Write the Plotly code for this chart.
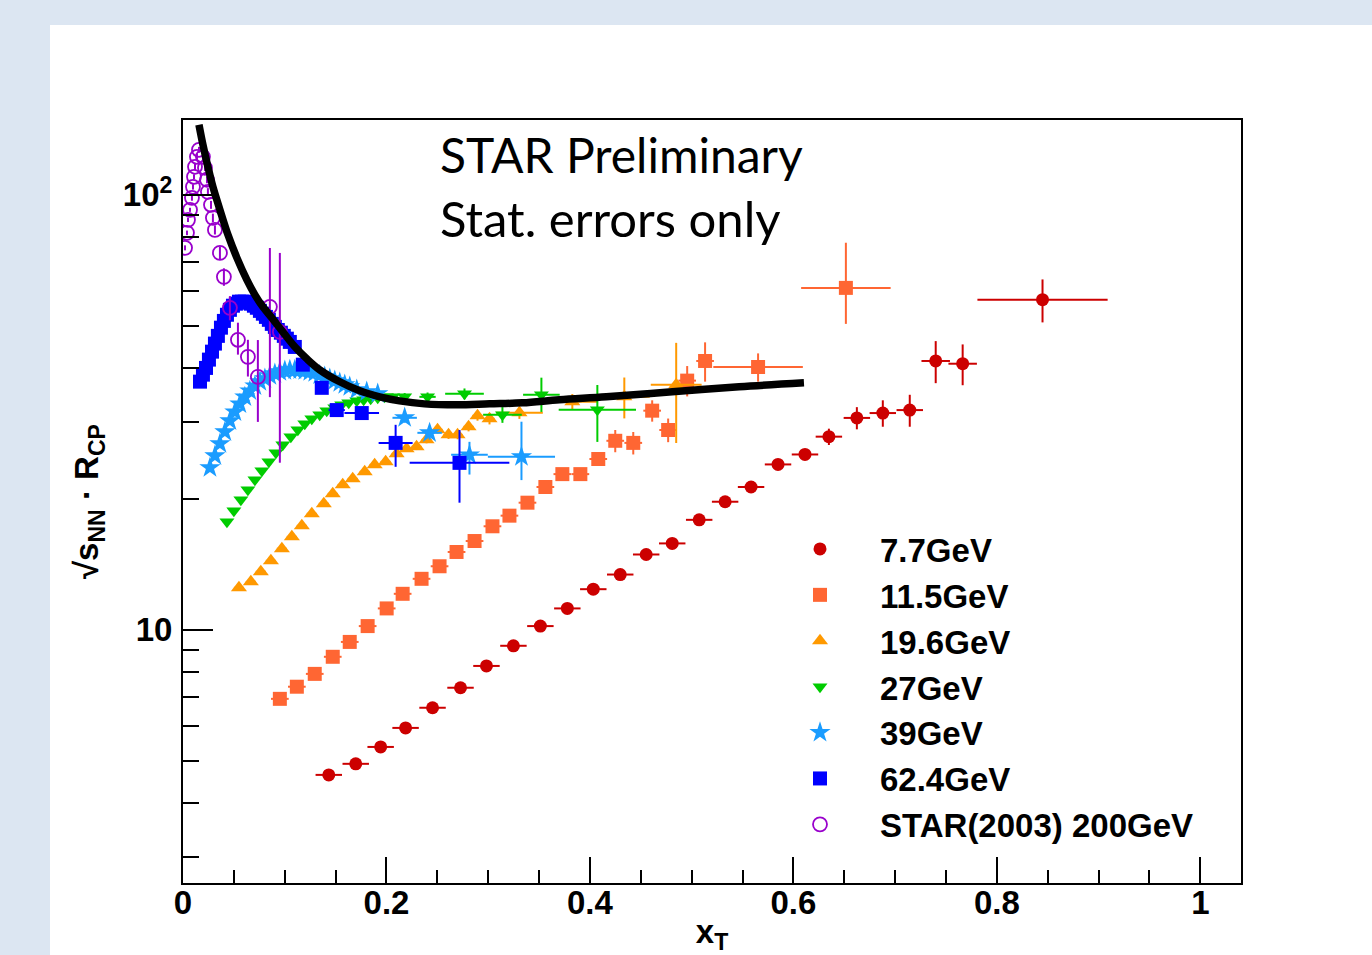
import plotly.graph_objects as go

# ---------------- data ----------------
x77 = [0.1433, 0.1698, 0.1943, 0.2188, 0.2453, 0.2728, 0.2983, 0.3248, 0.3513, 0.3778, 0.4033, 0.4298,
       0.4553, 0.4809, 0.5074, 0.5329, 0.5584, 0.5849, 0.6114, 0.6349, 0.6624, 0.6879, 0.7144, 0.7399,
       0.7664, 0.8449]
y77 = [4.64, 4.92, 5.38, 5.95, 6.62, 7.36, 8.26, 9.19, 10.2, 11.2, 12.4, 13.4, 14.9, 15.8, 17.9, 19.7,
       21.3, 24.0, 25.3, 27.8, 30.7, 31.5, 32.0, 41.5, 40.9, 57.4]
ex77 = [0.013, 0.013, 0.013, 0.013, 0.013, 0.013, 0.013, 0.013, 0.013, 0.013, 0.013, 0.013, 0.013,
        0.013, 0.013, 0.013, 0.013, 0.013, 0.013, 0.013, 0.013, 0.013, 0.013, 0.014, 0.014, 0.064]
ey77 = [0.08, 0.08, 0.09, 0.1, 0.1, 0.12, 0.13, 0.15, 0.17, 0.2, 0.22, 0.25, 0.3, 0.33, 0.4, 0.45,
        0.5, 0.6, 0.7, 1.2, 1.8, 2.2, 2.7, 4.6, 4.4, 6.5]

x115 = [0.0952, 0.1119, 0.1295, 0.1472, 0.1639, 0.1815, 0.2002, 0.2159, 0.2345, 0.2522, 0.2689, 0.2866,
        0.3042, 0.3209, 0.3386, 0.3562, 0.3729, 0.3906, 0.4082, 0.4249, 0.4426, 0.4612, 0.4769, 0.4956,
        0.5132, 0.5653, 0.6516]
y115 = [6.94, 7.40, 7.92, 8.67, 9.38, 10.2, 11.2, 12.1, 13.1, 14.0, 15.1, 16.0, 17.3, 18.3, 19.6, 21.3,
        22.8, 22.8, 24.7, 27.2, 26.9, 31.9, 28.8, 37.4, 41.5, 40.2, 61.1]
ex115 = [0.0087, 0.0087, 0.0087, 0.0087, 0.0087, 0.0087, 0.0087, 0.0087, 0.0087, 0.0087, 0.0087, 0.0087,
         0.0087, 0.0087, 0.0087, 0.0087, 0.0087, 0.0087, 0.0087, 0.0087, 0.0087, 0.0087, 0.0087, 0.0087,
         0.0087, 0.044, 0.044]
ey115_up = [0.06, 0.07, 0.08, 0.09, 0.1, 0.11, 0.13, 0.15, 0.17, 0.2, 0.22, 0.25, 0.3, 0.35, 0.4, 0.45,
            0.5, 0.6, 0.8, 1.6, 1.6, 1.8, 1.8, 3.0, 4.3, 3.0, 16.5]
ey115_dn = [0.06, 0.07, 0.08, 0.09, 0.1, 0.11, 0.13, 0.15, 0.17, 0.2, 0.22, 0.25, 0.3, 0.35, 0.4, 0.45,
            0.5, 0.6, 0.8, 1.6, 1.6, 1.8, 1.8, 3.0, 4.3, 3.0, 10.6]

x196 = [0.0550, 0.0667, 0.0765, 0.0864, 0.0972, 0.1070, 0.1168, 0.1266, 0.1384, 0.1472, 0.1570, 0.1668,
        0.1786, 0.1884, 0.1992, 0.2100, 0.2198, 0.2296, 0.2394, 0.2502, 0.2610, 0.2699, 0.2807, 0.2895,
        0.3013, 0.3307, 0.3827, 0.4338, 0.4848]
y196 = [12.49, 12.89, 13.60, 14.41, 15.36, 16.36, 17.34, 18.48, 19.49, 20.54, 21.54, 22.24, 23.08, 23.95,
        24.33, 25.39, 26.07, 26.35, 27.34, 28.83, 28.07, 28.07, 29.29, 31.05, 30.56, 31.54, 33.43, 34.32,
        36.58]
ex196 = [0.005, 0.005, 0.005, 0.005, 0.005, 0.005, 0.005, 0.005, 0.005, 0.005, 0.005, 0.005, 0.005,
         0.005, 0.005, 0.005, 0.005, 0.005, 0.005, 0.005, 0.005, 0.005, 0.005, 0.005, 0.005, 0.023,
         0.025, 0.025, 0.025]
ey196_up = [0.15, 0.15, 0.15, 0.16, 0.17, 0.18, 0.2, 0.2, 0.22, 0.24, 0.25, 0.27, 0.3, 0.32, 0.35, 0.38,
            0.4, 0.45, 0.5, 0.55, 0.6, 0.65, 0.7, 0.8, 0.9, 1.0, 1.4, 3.7, 9.1]
ey196_dn = [0.15, 0.15, 0.15, 0.16, 0.17, 0.18, 0.2, 0.2, 0.22, 0.24, 0.25, 0.27, 0.3, 0.32, 0.35, 0.38,
            0.4, 0.45, 0.5, 0.55, 0.6, 0.65, 0.7, 0.8, 0.9, 1.0, 1.4, 3.7, 9.7]

x27 = [0.0432, 0.0500, 0.0569, 0.0638, 0.0707, 0.0775, 0.0844, 0.0913, 0.0981, 0.1060, 0.1129, 0.1197,
       0.1266, 0.1344, 0.1413, 0.1492, 0.1560, 0.1629, 0.1708, 0.1776, 0.1845, 0.1914, 0.1982, 0.2061,
       0.2179, 0.2404, 0.2767, 0.3140, 0.3523, 0.4073]
y27 = [17.71, 18.77, 19.90, 20.98, 22.12, 23.21, 24.33, 25.52, 26.63, 27.78, 28.83, 29.76, 30.56, 31.21,
       31.87, 32.38, 32.90, 33.25, 33.60, 33.79, 33.96, 34.14, 34.32, 34.32, 34.32, 34.32, 34.88, 31.21,
       34.69, 32.04]
ex27 = [0.0037, 0.0037, 0.0037, 0.0037, 0.0037, 0.0037, 0.0037, 0.0037, 0.0037, 0.0037, 0.0037, 0.0037,
        0.0037, 0.0037, 0.0037, 0.0037, 0.0037, 0.0037, 0.0037, 0.0037, 0.0037, 0.0037, 0.0037, 0.0037,
        0.0037, 0.008, 0.019, 0.019, 0.018, 0.038]
ey27_up = [0.2, 0.2, 0.2, 0.2, 0.22, 0.22, 0.24, 0.25, 0.26, 0.28, 0.3, 0.3, 0.32, 0.33, 0.35, 0.37, 0.4,
           0.42, 0.45, 0.48, 0.5, 0.55, 0.6, 0.65, 0.7, 0.8, 1.0, 1.3, 3.3, 4.5]
ey27_dn = [0.2, 0.2, 0.2, 0.2, 0.22, 0.22, 0.24, 0.25, 0.26, 0.28, 0.3, 0.3, 0.32, 0.33, 0.35, 0.37, 0.4,
           0.42, 0.45, 0.48, 0.5, 0.55, 0.6, 0.65, 0.7, 0.8, 1.0, 1.3, 3.0, 5.0]

x39 = [0.0265, 0.0314, 0.0363, 0.0412, 0.0461, 0.0510, 0.0559, 0.0608, 0.0657, 0.0707, 0.0756, 0.0805,
       0.0854, 0.0903, 0.0952, 0.1001, 0.1050, 0.1099, 0.1148, 0.1197, 0.1246, 0.1295, 0.1344, 0.1393,
       0.1443, 0.1492, 0.1541, 0.1590, 0.1639, 0.1708, 0.1806, 0.1914, 0.2179, 0.2424, 0.2816, 0.3327]
y39 = [23.58, 25.12, 26.77, 28.52, 30.23, 31.70, 33.07, 34.32, 35.43, 36.38, 37.17, 37.76, 38.37, 38.78,
       39.19, 39.40, 39.60, 39.60, 39.60, 39.40, 39.19, 38.98, 38.56, 38.16, 37.76, 37.37, 36.97, 36.58,
       36.20, 35.63, 35.25, 34.88, 30.72, 28.37, 25.25, 24.99]
ex39 = [0.0026, 0.0026, 0.0026, 0.0026, 0.0026, 0.0026, 0.0026, 0.0026, 0.0026, 0.0026, 0.0026, 0.0026,
        0.0026, 0.0026, 0.0026, 0.0026, 0.0026, 0.0026, 0.0026, 0.0026, 0.0026, 0.0026, 0.0026, 0.0026,
        0.0026, 0.0026, 0.0026, 0.0026, 0.0026, 0.003, 0.005, 0.005, 0.012, 0.012, 0.018, 0.033]
ey39_up = [0.2, 0.2, 0.2, 0.2, 0.2, 0.2, 0.2, 0.2, 0.2, 0.2, 0.2, 0.2, 0.2, 0.2, 0.25, 0.25, 0.25, 0.25,
           0.3, 0.3, 0.3, 0.3, 0.35, 0.35, 0.35, 0.4, 0.4, 0.4, 0.45, 0.5, 0.55, 0.6, 0.8, 1.0, 1.8, 5.1]
ey39_dn = [0.2, 0.2, 0.2, 0.2, 0.2, 0.2, 0.2, 0.2, 0.2, 0.2, 0.2, 0.2, 0.2, 0.2, 0.25, 0.25, 0.25, 0.25,
           0.3, 0.3, 0.3, 0.3, 0.35, 0.35, 0.35, 0.4, 0.4, 0.4, 0.45, 0.5, 0.55, 0.6, 0.8, 1.0, 2.5, 2.9]

x62 = [0.0167, 0.0196, 0.0226, 0.0255, 0.0285, 0.0314, 0.0343, 0.0373, 0.0402, 0.0432, 0.0461, 0.0491,
       0.0520, 0.0550, 0.0579, 0.0608, 0.0638, 0.0667, 0.0697, 0.0726, 0.0756, 0.0785, 0.0815, 0.0844,
       0.0873, 0.0903, 0.0932, 0.0962, 0.0991, 0.1021, 0.1050, 0.1099, 0.1178, 0.1364, 0.1511, 0.1757,
       0.2090, 0.2718]
y62 = [37.2, 38.6, 40.0, 41.8, 43.6, 45.5, 47.4, 49.5, 51.3, 53.0, 54.4, 55.6, 56.2, 56.8, 56.8, 56.8,
       56.5, 56.2, 55.6, 55.0, 54.1, 53.3, 52.4, 51.6, 50.5, 49.7, 48.9, 48.2, 47.4, 46.7, 45.9, 44.7,
       40.7, 36.0, 32.0, 31.5, 26.9, 24.2]
ex62 = [0.0016, 0.0016, 0.0016, 0.0016, 0.0016, 0.0016, 0.0016, 0.0016, 0.0016, 0.0016, 0.0016, 0.0016,
        0.0016, 0.0016, 0.0016, 0.0016, 0.0016, 0.0016, 0.0016, 0.0016, 0.0016, 0.0016, 0.0016, 0.0016,
        0.0016, 0.0016, 0.0016, 0.0016, 0.0016, 0.0016, 0.0016, 0.0025, 0.004, 0.005, 0.008, 0.017,
        0.0167, 0.049]
ey62_up = [0.3, 0.3, 0.3, 0.3, 0.3, 0.3, 0.3, 0.3, 0.3, 0.3, 0.3, 0.3, 0.3, 0.3, 0.3, 0.3, 0.3, 0.3,
           0.3, 0.3, 0.3, 0.3, 0.3, 0.3, 0.3, 0.35, 0.35, 0.35, 0.4, 0.4, 0.4, 0.45, 0.6, 0.7, 0.8, 1.0,
           2.7, 4.6]
ey62_dn = [0.3, 0.3, 0.3, 0.3, 0.3, 0.3, 0.3, 0.3, 0.3, 0.3, 0.3, 0.3, 0.3, 0.3, 0.3, 0.3, 0.3, 0.3,
           0.3, 0.3, 0.3, 0.3, 0.3, 0.3, 0.3, 0.35, 0.35, 0.35, 0.4, 0.4, 0.4, 0.45, 0.6, 0.7, 0.8, 1.0,
           3.2, 4.6]

x200 = [0.0020, 0.0039, 0.0049, 0.0069, 0.0088, 0.0098, 0.0108, 0.0118, 0.0137, 0.0157, 0.0196, 0.0216,
        0.0236, 0.0245, 0.0275, 0.0294, 0.0314, 0.0363, 0.0402, 0.0461, 0.0540, 0.0638, 0.0736, 0.0854,
        0.0952]
y200 = [75.53, 81.76, 87.59, 92.37, 98.42, 104.3, 110.0, 116.0, 122.3, 126.9, 122.3, 115.4, 108.3, 101.6,
        94.85, 88.52, 83.06, 73.56, 64.78, 54.98, 46.42, 42.42, 38.16, 55.27, 48.42]
ey200_up = [1.0, 1.0, 1.0, 1.0, 1.5, 1.5, 1.5, 2.0, 2.0, 2.0, 2.0, 2.0, 2.0, 2.0, 2.0, 2.0, 2.0, 2.5, 3.0,
            3.5, 4.4, 4.0, 8.2, 20.2, 25.1]
ey200_dn = [1.0, 1.0, 1.0, 1.0, 1.5, 1.5, 1.5, 2.0, 2.0, 2.0, 2.0, 2.0, 2.0, 2.0, 2.0, 2.0, 2.0, 2.5, 3.0,
            3.5, 3.5, 4.2, 8.1, 21.0, 24.2]

# black curve
xcurve = [0.0157, 0.0196, 0.0245, 0.0294, 0.0363, 0.0442, 0.0530, 0.0628, 0.0707, 0.0785, 0.0873, 0.0981,
          0.1099, 0.1217, 0.1344, 0.1541, 0.1737, 0.1933, 0.2129, 0.2375, 0.2689, 0.3013, 0.3337, 0.3700,
          0.4161, 0.4809, 0.5466, 0.6104]
ycurve = [144.9, 130.3, 116.0, 104.3, 92.37, 80.91, 71.64, 63.76, 58.90, 55.27, 52.14, 48.42, 44.73, 41.98,
          39.60, 37.17, 35.43, 34.32, 33.60, 33.07, 32.90, 33.07, 33.25, 33.79, 34.32, 35.25, 36.20, 36.97]

names = ["7.7GeV", "11.5GeV", "19.6GeV", "27GeV", "39GeV", "62.4GeV", "STAR(2003) 200GeV"]
xtick_vals = [0, 0.2, 0.4, 0.6, 0.8, 1.0]
xtick_text = ["0", "0.2", "0.4", "0.6", "0.8", "1"]
ytick_vals = [10, 100]
ytick_text = ["10", "10<sup>2</sup>"]
yminor_vals = [3, 4, 5, 6, 7, 8, 9, 20, 30, 40, 50, 60, 70, 80, 90]

# ---------------- figure ----------------
W, H = 1372, 955
L, R, T, B = 183, 131, 120, 72
PW, PH = W - L - R, H - T - B
YR = [0.418, 2.172]
XR = [0, 1.04]

fig = go.Figure()


def add_series(x, y, name, color, symbol, size, ex=None, eyu=None, eyd=None, open_marker=False):
    marker = dict(color=color, symbol=symbol, size=size)
    if open_marker:
        marker["line"] = dict(color=color, width=1.8)
    err_x = dict(type="data", array=ex, color=color, thickness=2, width=0, visible=ex is not None)
    err_y = dict(type="data", symmetric=False, array=eyu, arrayminus=eyd, color=color,
                 thickness=2, width=0, visible=eyu is not None)
    fig.add_trace(go.Scatter(x=x, y=y, mode="markers", name=name, marker=marker,
                             error_x=err_x, error_y=err_y))


add_series(x77, y77, names[0], "#cc0000", "circle", 13, ex77, ey77, ey77)
add_series(x115, y115, names[1], "#ff6633", "square", 14, ex115, ey115_up, ey115_dn)
add_series(x196, y196, names[2], "#ff9900", "triangle-up", 14, ex196, ey196_up, ey196_dn)
add_series(x27, y27, names[3], "#00cc00", "triangle-down", 13, ex27, ey27_up, ey27_dn)
add_series(x39, y39, names[4], "#1a9cff", "star", 16, ex39, ey39_up, ey39_dn)
add_series(x62, y62, names[5], "#0000ff", "square", 14, ex62, ey62_up, ey62_dn)
add_series(x200, y200, names[6], "#9900cc", "circle-open", 14, None, ey200_up, ey200_dn, open_marker=True)

fig.add_trace(go.Scatter(x=xcurve, y=ycurve, mode="lines", line=dict(color="black", width=7.5, shape="spline"),
                         showlegend=False, hoverinfo="skip"))
# empty trace to anchor the minor-tick overlay axis
fig.add_trace(go.Scatter(x=[], y=[], yaxis="y2", showlegend=False))

tickfont = dict(family="Liberation Sans, Arial, sans-serif", size=33, color="black", weight="bold")

fig.update_layout(
    width=W, height=H,
    margin=dict(l=L, r=R, t=T, b=B, autoexpand=False),
    paper_bgcolor="#dce6f2",
    plot_bgcolor="white",
    showlegend=True,
    legend=dict(x=(760 - L) / PW, y=(H - B - 521) / PH, xanchor="left", yanchor="top",
                bgcolor="rgba(0,0,0,0)",
                font=dict(family="Liberation Sans, Arial, sans-serif", size=33, color="black", weight="bold"),
                itemwidth=110, tracegroupgap=0),
    xaxis=dict(range=XR, tickvals=xtick_vals, ticktext=xtick_text, ticks="inside", ticklen=26,
               tickwidth=1.5, tickcolor="black", showgrid=False, zeroline=False, automargin=False,
               showline=True, linecolor="black", linewidth=2, mirror=True,
               minor=dict(dtick=0.05, ticks="inside", ticklen=13, tickwidth=1.5, tickcolor="black", showgrid=False),
               tickfont=tickfont, ticklabelstandoff=-11,
               title=dict(text="x<sub>T</sub>", font=tickfont, standoff=0)),
    yaxis=dict(type="log", range=YR, tickvals=ytick_vals, ticktext=ytick_text, ticks="inside", ticklen=30,
               tickwidth=1.5, tickcolor="black", showgrid=False, zeroline=False, automargin=False,
               showline=True, linecolor="black", linewidth=2, mirror=True,
               tickfont=tickfont, ticklabelstandoff=2,
               title=dict(text="√s<sub>NN</sub> · R<sub>CP</sub>", font=tickfont, standoff=14)),
    yaxis2=dict(type="log", range=YR, overlaying="y", anchor="x", side="left", tickvals=yminor_vals,
                ticks="inside", ticklen=16, tickwidth=1.5, tickcolor="black", showticklabels=False,
                showgrid=False, zeroline=False, showline=False, automargin=False),
    shapes=[dict(type="rect", xref="paper", yref="paper",
                 x0=(50 - L) / PW, x1=1.3, y0=-0.3, y1=(H - B - 25) / PH,
                 fillcolor="white", line=dict(width=0), layer="below")],
    annotations=[
        dict(text="STAR Preliminary", xref="paper", yref="paper", x=(438 - L) / PW,
             y=(H - B - 155) / PH, xanchor="left", yanchor="middle", showarrow=False,
             font=dict(family="Lato, sans-serif", size=48, color="black")),
        dict(text="Stat. errors only", xref="paper", yref="paper", x=(438 - L) / PW,
             y=(H - B - 218) / PH, xanchor="left", yanchor="middle", showarrow=False,
             font=dict(family="Lato, sans-serif", size=49, color="black")),
    ],
)

fig.write_html("out.html")
